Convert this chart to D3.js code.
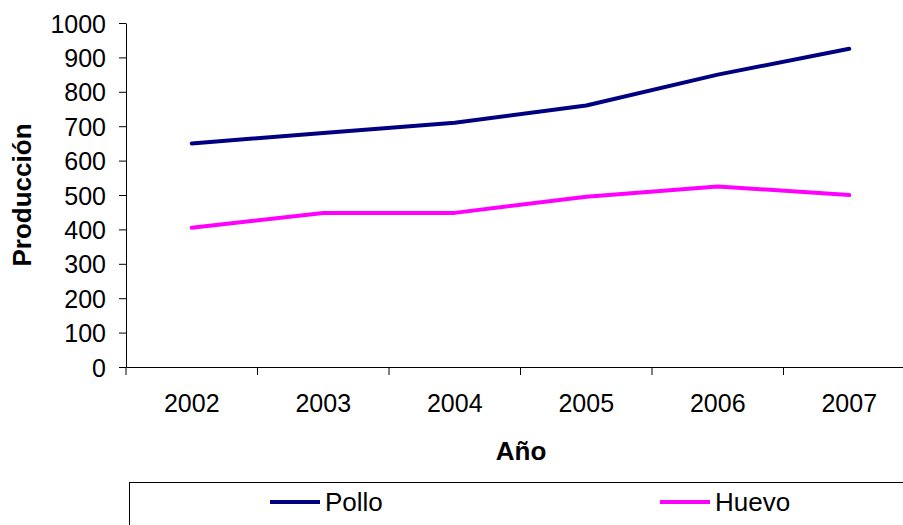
<!DOCTYPE html>
<html><head><meta charset="utf-8">
<script src="https://cdn.jsdelivr.net/npm/d3@7/dist/d3.min.js"></script>
<style>
html,body{margin:0;padding:0;background:#fff;overflow:hidden;}
text{font-family:"Liberation Sans",Arial,sans-serif;fill:#000;}
</style></head>
<body>
<svg id="chart" width="903" height="525"></svg>
<script>
const years = ["2002","2003","2004","2005","2006","2007"];
const pollo = [650, 680, 710, 760, 850, 925];
const huevo = [405, 448, 448, 495, 525, 500];
const yTicks = [0,100,200,300,400,500,600,700,800,900,1000];
const seriesNames = ["Pollo","Huevo"];
const seriesColors = ["#000080","#FF00FF"];

const svg = d3.select("#chart");
const mLeft = 126, mTop = 23, mBottom = 367, mRight = 126 + 6*131.5;

const x = d3.scaleBand().domain(years).range([mLeft, mRight]);
const y = d3.scaleLinear().domain([0,1000]).range([mBottom, mTop]);

// Y axis
const yAxis = svg.append("g").attr("transform", `translate(${mLeft},0)`)
  .call(d3.axisLeft(y).tickValues(yTicks).tickFormat(d3.format("d")).tickSize(7).tickPadding(13).tickSizeOuter(0));
yAxis.selectAll("text").style("font-size","25px").attr("dy","0.36em");
yAxis.select(".domain").attr("stroke","#000").attr("stroke-width",1);

// X axis
const xAxis = svg.append("g").attr("transform", `translate(0,${mBottom})`)
  .call(d3.axisBottom(x).tickSize(0).tickPadding(27).tickSizeOuter(0));
xAxis.selectAll("text").style("font-size","25px");
xAxis.select(".domain").attr("stroke","#000");
// boundary ticks
svg.append("g").selectAll("line").data(years.map((d,i)=>i))
  .join("line")
  .attr("x1", i => mLeft + i*x.step()).attr("x2", i => mLeft + i*x.step())
  .attr("y1", mBottom).attr("y2", mBottom+8)
  .attr("stroke","#000").attr("stroke-width",1);

// Lines
const line = d3.line().x((d,i)=>x(years[i]) + x.bandwidth()/2).y(d=>y(d));
[pollo, huevo].forEach((s,k)=>{
  svg.append("path").datum(s).attr("d", line)
    .attr("fill","none").attr("stroke", seriesColors[k]).attr("stroke-width",4)
    .attr("stroke-linejoin","round").attr("stroke-linecap","round");
});

// Axis titles
svg.append("text").attr("x", 521).attr("y", 460).attr("text-anchor","middle")
  .style("font-size","26px").style("font-weight","bold").text("Año");
svg.append("text").attr("transform","translate(31,195) rotate(-90)").attr("text-anchor","middle")
  .style("font-size","26px").style("font-weight","bold").text("Producción");

// Legend
svg.append("rect").attr("x",129.5).attr("y",482.5).attr("width",800).attr("height",100)
  .attr("fill","#fff").attr("stroke","#000").attr("stroke-width",1);
const legX = [270, 660];
seriesNames.forEach((n,k)=>{
  svg.append("line").attr("x1",legX[k]).attr("x2",legX[k]+50).attr("y1",502).attr("y2",502)
    .attr("stroke",seriesColors[k]).attr("stroke-width",4);
  svg.append("text").attr("x",legX[k]+55).attr("y",511).style("font-size","26px").text(n);
});
</script>
</body></html>
